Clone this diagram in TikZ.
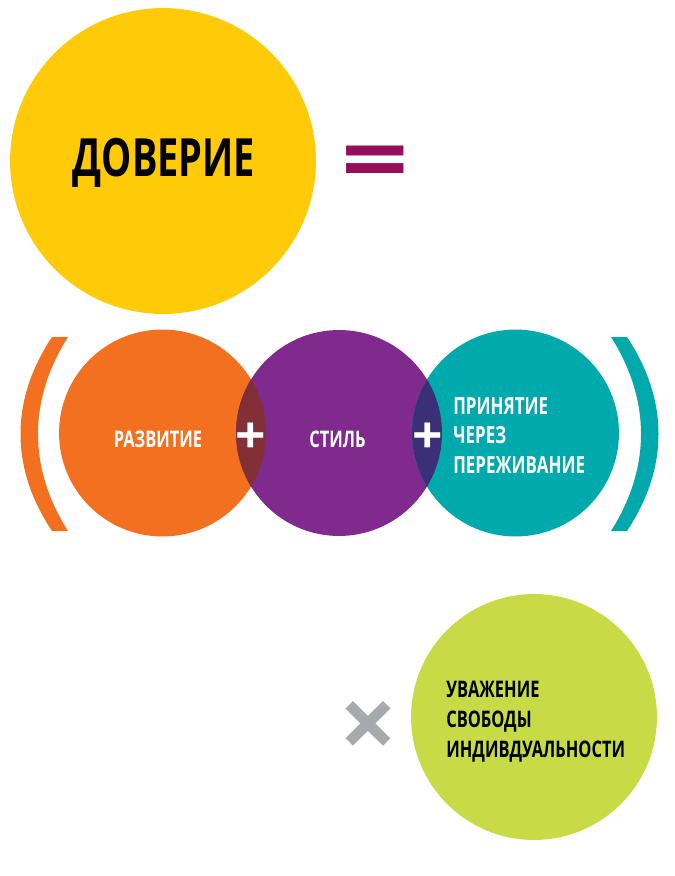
\documentclass[tikz,border=0pt]{standalone}
\usepackage{fontspec}
\setmainfont{Open Sans}[FakeStretch=0.72,BoldFont={Open Sans Bold}]
\definecolor{yellowc}{HTML}{FFCB08}
\definecolor{orangec}{HTML}{F37021}
\definecolor{purplec}{HTML}{7F2A8C}
\definecolor{tealc}{HTML}{00A9AC}
\definecolor{limec}{HTML}{C8DB47}
\definecolor{lensa}{HTML}{803036}
\definecolor{lensb}{HTML}{3B2F78}
\definecolor{eqc}{HTML}{980C5C}
\definecolor{crossc}{HTML}{A7A9AC}
\tikzset{
  disc/.style={circle,inner sep=0,minimum size=#1*0.04cm},
  lbl/.style={font=\bfseries\fontsize{13}{17}\selectfont,text=white,inner sep=0},
  lines/.style={lbl,align=left},
  sign/.style={inner sep=0,font=\bfseries},
}
\begin{document}
\begin{tikzpicture}[x=0.02cm,y=-0.02cm,line join=round]
  \useasboundingbox (0,0) rectangle (675,876);
  \node[disc=153,fill=yellowc] (trust) at (163,161) {};
  \node[disc=103.5,fill=orangec] (growth) at (162.5,433) {};
  \node[disc=103,fill=purplec] (style) at (339,433) {};
  \node[disc=103.5,fill=tealc] (accept) at (515.5,433) {};
  \node[disc=123,fill=limec] (respect) at (534,717) {};
  % overlaps
  \begin{scope}
    \clip (growth.center) circle (2.07cm);
    \fill[lensa] (style.center) circle (2.06cm);
  \end{scope}
  \begin{scope}
    \clip (style.center) circle (2.06cm);
    \fill[lensb] (accept.center) circle (2.07cm);
  \end{scope}
  % brackets
  \fill[orangec] (52,337) -- (68,337) .. controls (28,400) and (28,468) .. (68,531)
    -- (52,531) .. controls (10,468) and (10,400) .. (52,337);
  \fill[tealc] (627,337) -- (611,337) .. controls (651,400) and (651,468) .. (611,531)
    -- (627,531) .. controls (669,468) and (669,400) .. (627,337);
  \node[sign] (eq) at (375,169) {\color{eqc}\resizebox{1.35cm}{0.93cm}{=}};
  \node[sign] (plusa) at (251,438) {\color{white}\resizebox{0.61cm}{0.61cm}{+}};
  \node[sign] (plusb) at (427.5,438) {\color{white}\resizebox{0.61cm}{0.61cm}{+}};
  \node[sign] (times) at (368.5,730) {\color{crossc}\resizebox{1.16cm}{1.16cm}{×}};
  \node[inner sep=0,font=\bfseries\fontsize{30}{30}\selectfont,anchor=base] (trustlbl) at (164,176) {ДОВЕРИЕ};
  \node[lbl,anchor=base] (growthlbl) at (158,447) {РАЗВИТИЕ};
  \node[lbl,anchor=base] (stylelbl) at (337.5,447) {СТИЛЬ};
  \node[lines,anchor=west,font=\bfseries\fontsize{13.4}{17}\selectfont] (acceptlbl) at (453,435.5) {ПРИНЯТИЕ\\ЧЕРЕЗ\\ПЕРЕЖИВАНИЕ};
  \node[lines,text=black,anchor=west] (respectlbl) at (446,722) {УВАЖЕНИЕ\\СВОБОДЫ\\ИНДИВДУАЛЬНОСТИ};
\end{tikzpicture}
\end{document}
